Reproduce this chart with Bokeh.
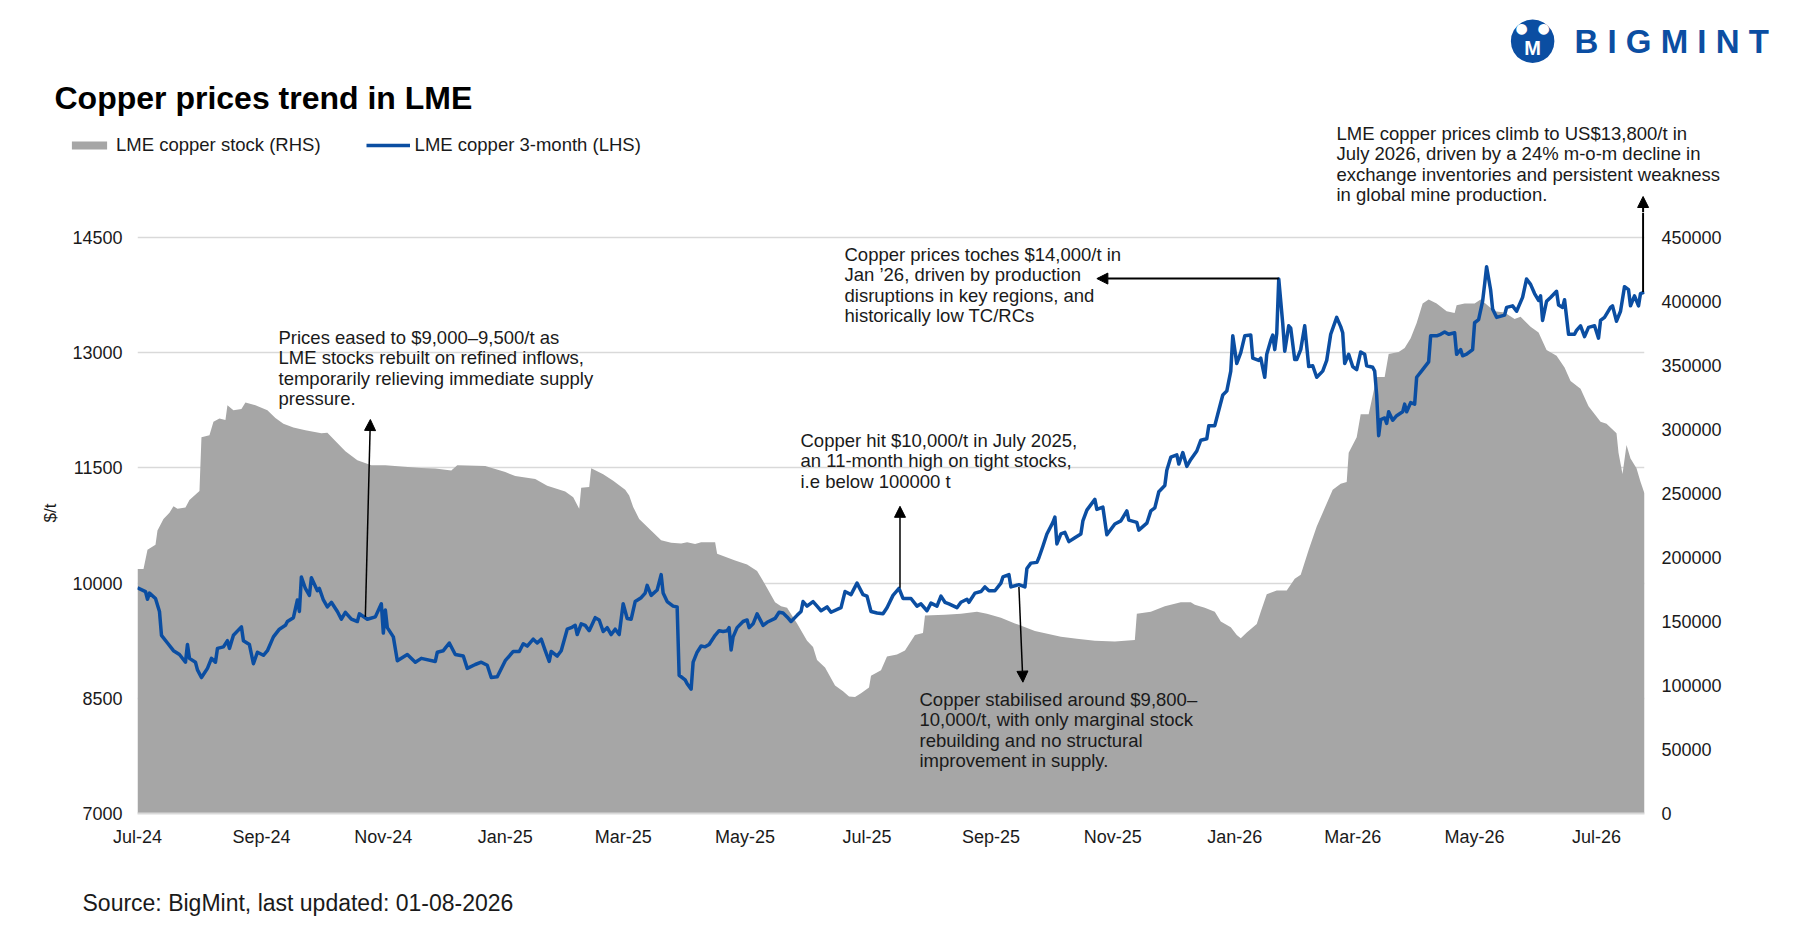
import pandas as pd
from bokeh.plotting import figure
from bokeh.layouts import column
from bokeh.models import (Range1d, LinearAxis, FixedTicker, DatetimeTickFormatter,
                          NumeralTickFormatter, Label, Arrow, NormalHead, Legend, LegendItem)
from bokeh.embed import file_html
from bokeh.resources import INLINE

FONT = "Liberation Sans"
BLUE = "#0B4EA2"
GREY = "#A6A6A6"
GRID = "#D9D9D9"
INK = "#1A1A1A"

START = pd.Timestamp("2024-07-01")
END = pd.Timestamp("2026-07-25")

# LME copper 3-month, US$/t (days counted from 1 Jul 2024)
price_day = [
    0, 4, 5, 6, 9, 11, 12, 15, 18, 21, 24, 25, 26, 29, 30, 32, 35, 37, 39, 40,
    43, 45, 46, 48, 52, 53, 56, 58, 60, 63, 65, 68, 71, 74, 75, 78, 80, 81, 82, 84,
    86, 87, 90, 91, 93, 95, 97, 100, 102, 104, 107, 110, 111, 115, 119, 122, 123, 124, 125, 128,
    130, 135, 139, 142, 149, 150, 153, 156, 159, 163, 165, 169, 172, 175, 177, 180, 184, 186, 188, 191,
    193, 195, 198, 200, 202, 204, 206, 207, 210, 212, 215, 217, 219, 220, 222, 224, 226, 229, 231, 233,
    235, 237, 239, 241, 243, 245, 247, 249, 252, 254, 255, 257, 260, 262, 263, 265, 268, 270, 271, 274,
    275, 277, 278, 280, 282, 284, 286, 289, 291, 293, 295, 296, 297, 298, 300, 303, 305, 306, 308, 310,
    313, 315, 319, 321, 323, 325, 327, 330, 332, 333, 335, 338, 340, 342, 345, 347, 352, 354, 357, 360,
    363, 365, 367, 370, 373, 375, 378, 381, 383, 387, 390, 392, 395, 397, 400, 402, 404, 406, 410, 412,
    415, 416, 419, 422, 424, 426, 429, 432, 433, 436, 437, 441, 444, 445, 447, 450, 451, 453, 455, 458,
    459, 460, 462, 464, 466, 469, 472, 473, 475, 479, 480, 483, 485, 489, 492, 495, 496, 500, 501, 505,
    507, 509, 511, 514, 515, 517, 520, 521, 523, 525, 527, 530, 532, 535, 536, 539, 541, 543, 545, 547,
    548, 550, 552, 554, 557, 558, 561, 562, 564, 565, 567, 568, 569, 570, 571, 573, 574, 576, 577, 579,
    580, 582, 584, 586, 588, 590, 593, 595, 597, 600, 602, 603, 604, 606, 608, 610, 612, 614, 615, 618,
    619, 620, 621, 622, 624, 625, 626, 628, 630, 633, 634, 635, 637, 639, 640, 643, 646, 647, 650, 652,
    654, 656, 659, 660, 662, 663, 665, 668, 669, 671, 673, 674, 675, 677, 678, 680, 684, 685, 688, 690,
    693, 695, 697, 699, 701, 702, 703, 705, 707, 710, 711, 713, 714, 716, 719, 720, 722, 724, 726, 729,
    731, 732, 734, 737, 738, 740, 742, 744, 746, 747, 749, 751, 752, 754,
]
price_usd = [
    9940, 9890, 9790, 9870, 9800, 9630, 9320, 9220, 9120, 9070, 8970, 9200, 9020, 8970, 8870, 8770, 8890, 9020, 8970, 9150,
    9170, 9250, 9150, 9320, 9430, 9250, 9200, 8950, 9100, 9060, 9120, 9300, 9400, 9450, 9500, 9550, 9780, 9630, 10080, 9930,
    9840, 10070, 9900, 9930, 9780, 9690, 9750, 9630, 9530, 9620, 9530, 9500, 9600, 9530, 9560, 9730, 9350, 9650, 9420, 9300,
    8990, 9070, 8970, 9020, 8980, 9100, 9120, 9220, 9070, 9050, 8890, 8940, 8970, 8930, 8770, 8780, 8990, 9050, 9110, 9110,
    9210, 9180, 9270, 9220, 9270, 9120, 8980, 9110, 9050, 9120, 9400, 9420, 9450, 9330, 9470, 9450, 9380, 9550, 9520, 9370,
    9420, 9330, 9400, 9330, 9730, 9540, 9530, 9760, 9810, 9870, 9970, 9840, 9910, 10110, 9870, 9760, 9700, 9690, 8800, 8740,
    8690, 8620, 8970, 9100, 9180, 9170, 9200, 9320, 9380, 9370, 9380, 9420, 9130, 9300, 9420, 9500, 9520, 9420, 9470, 9600,
    9450, 9490, 9540, 9620, 9610, 9560, 9500, 9580, 9630, 9760, 9700, 9760, 9700, 9640, 9690, 9620, 9680, 9890, 9850, 10000,
    9850, 9830, 9630, 9610, 9600, 9680, 9840, 9930, 9800, 9800, 9700, 9730, 9640, 9740, 9700, 9830, 9750, 9730, 9680, 9750,
    9790, 9750, 9870, 9890, 9950, 9900, 9900, 10000, 10080, 10110, 9950, 9980, 9950, 10190, 10260, 10270, 10330, 10480, 10640, 10790,
    10860, 10510, 10640, 10660, 10540, 10590, 10640, 10810, 10950, 11090, 10960, 10990, 10630, 10770, 10810, 10940, 10820, 10790, 10690, 10780,
    10940, 10980, 11190, 11270, 11470, 11640, 11670, 11550, 11700, 11520, 11610, 11720, 11860, 11880, 12050, 12050, 12250, 12450, 12500, 12760,
    13220, 12860, 13000, 13220, 13230, 12930, 12900, 12930, 12680, 12980, 13160, 13230, 13040, 13250, 13960, 13380, 13020, 13350, 13320, 12910,
    12910, 13040, 13350, 12820, 12830, 12680, 12760, 12900, 13240, 13460, 13340, 13260, 12860, 12980, 12820, 12780, 13010, 12980, 12830, 12810,
    12760, 12450, 11920, 12130, 12150, 12080, 12230, 12120, 12180, 12230, 12330, 12230, 12350, 12330, 12680, 12780, 12880, 13220, 13220, 13240,
    13270, 13240, 13260, 12980, 13040, 12960, 12980, 13040, 13390, 13430, 13670, 13890, 14120, 13820, 13570, 13460, 13490, 13590, 13610, 13540,
    13720, 13960, 13890, 13770, 13680, 13740, 13420, 13670, 13720, 13800, 13620, 13590, 13690, 13240, 13240, 13290, 13350, 13210, 13330, 13350,
    13190, 13420, 13460, 13590, 13610, 13410, 13540, 13860, 13820, 13610, 13740, 13610, 13770, 13790,
]

# LME copper stock, tonnes
stock_day = [
    0, 3, 5, 9, 10, 13, 16, 18, 20, 24, 26, 31, 32, 36, 38, 41, 44, 45, 48, 52,
    54, 59, 65, 69, 73, 78, 84, 92, 95, 99, 104, 110, 117, 124, 132, 142, 149, 157, 160, 174,
    184, 189, 199, 205, 214, 218, 221, 222, 226, 227, 233, 238, 244, 246, 248, 251, 255, 262, 267, 272,
    275, 279, 282, 289, 290, 299, 305, 310, 314, 319, 322, 325, 330, 335, 338, 340, 344, 349, 353, 356,
    359, 362, 366, 367, 372, 375, 380, 384, 389, 393, 394, 404, 412, 420, 425, 432, 439, 449, 462, 470,
    479, 489, 499, 500, 507, 514, 522, 527, 529, 534, 539, 542, 547, 550, 552, 555, 560, 562, 565, 570,
    575, 579, 582, 586, 590, 593, 598, 602, 605, 606, 610, 612, 616, 620, 624, 626, 631, 634, 637, 640,
    643, 646, 650, 655, 659, 660, 664, 669, 672, 675, 679, 684, 689, 692, 697, 701, 705, 710, 714, 717,
    722, 726, 732, 735, 740, 741, 743, 745, 747, 750, 752, 754,
]
stock_t = [
    191000, 191000, 206000, 210000, 221000, 230000, 235000, 240000, 238000, 239000, 245000, 252000, 294000, 295500, 306000, 308500, 307500, 319000, 315000, 316000,
    321000, 319000, 315000, 309000, 304500, 301500, 299500, 297000, 297500, 291000, 283000, 276000, 272000, 272000, 271000, 270000, 269500, 268000, 272000, 271500,
    266700, 263700, 261300, 256000, 251500, 247000, 238000, 254500, 255000, 269700, 265000, 260000, 253000, 248500, 239500, 230000, 224000, 213500, 211500, 211000,
    212000, 210500, 212000, 212000, 203000, 197600, 194600, 189500, 179000, 165000, 162000, 160700, 148500, 135000, 130000, 120000, 114000, 100000, 95500, 91500,
    91000, 94000, 98500, 107600, 112000, 122700, 124300, 127300, 139500, 141000, 154600, 155200, 156000, 157600, 156000, 153000, 148500, 142500, 138000, 136500,
    135000, 134300, 135500, 156000, 157600, 162000, 165000, 165000, 163000, 160700, 157600, 150000, 145500, 139500, 137000, 141500, 148000, 157600, 171200, 174300,
    174300, 183400, 186500, 206000, 224300, 235000, 253000, 257600, 259000, 281800, 294000, 312000, 312000, 341000, 341000, 359000, 360600, 363600, 371200, 383300,
    398500, 401500, 398500, 392400, 391000, 397000, 398500, 398500, 401500, 397600, 392400, 391500, 386400, 388000, 380300, 375800, 362100, 357600, 348500, 337900,
    331800, 318200, 306100, 304500, 297000, 281800, 265200, 287800, 277300, 269700, 259100, 250000,
]

price_ticks = [7000, 8500, 10000, 11500, 13000, 14500]
stock_ticks = [0, 50000, 100000, 150000, 200000, 250000, 300000, 350000, 400000, 450000]
month_ticks = ["2024-07-01", "2024-09-01", "2024-11-01", "2025-01-01", "2025-03-01", "2025-05-01",
               "2025-07-01", "2025-09-01", "2025-11-01", "2026-01-01", "2026-03-01", "2026-05-01",
               "2026-07-01"]


def ms(day):
    return (START + pd.Timedelta(days=day)).value / 1e6


price_dates = START + pd.to_timedelta(price_day, unit="D")
stock_dates = START + pd.to_timedelta(stock_day, unit="D")

W = 1790
HEAD_H, MAIN_H, FOOT_H = 212, 648, 69
# main frame: 137..1644 across, 212..813 down (page pixels); 14500 sits at 237
FRAME_L, FRAME_R, FRAME_B = 137, 1644, 813
PX_PER_USD = 576 / 7500
frame_h = FRAME_B - HEAD_H
y_top = 7000 + frame_h / PX_PER_USD
stock_top = 450000 * frame_h / 576


def blank(height):
    f = figure(width=W, height=height, x_range=Range1d(0, W), y_range=Range1d(0, height),
               output_backend="svg", toolbar_location=None, tools="",
               x_axis_location=None, y_axis_location=None, min_border=0,
               outline_line_color=None, frame_align=False)
    f.grid.grid_line_color = None
    return f


def label(fig, x, y, s, size="18.5px", **kw):
    opts = dict(text_font=FONT, text_font_size=size, text_color=INK,
                text_baseline="top", text_line_height=0.98)
    opts.update(kw)
    fig.add_layout(Label(x=x, y=y, x_units="screen", y_units="screen", text=s, **opts))


# ---------------- header: title, legend, logo ----------------
head = blank(HEAD_H)


def htext(xp, yp, s, **kw):
    label(head, xp, HEAD_H - yp, s, **kw)


htext(54, 97, "Copper prices trend in LME", size="32px", text_font_style="bold",
      text_color="black", text_baseline="middle")

# stand-ins that only carry the legend swatches
h_area = head.varea(x=[0], y1=[0], y2=[0], fill_color=GREY)
h_line = head.line(x=[0], y=[0], line_color=BLUE, line_width=3.5)
legend = Legend(
    items=[LegendItem(label="LME copper stock (RHS)", renderers=[h_area]),
           LegendItem(label="LME copper 3-month (LHS)", renderers=[h_line])],
    orientation="horizontal",
    location=(67, HEAD_H - 156),
    glyph_width=44, glyph_height=10, label_height=20,
    label_standoff=5, spacing=45, padding=0, margin=0,
    border_line_color=None, background_fill_alpha=0,
    label_text_font=FONT, label_text_font_size="18.5px", label_text_color=INK,
)
head.add_layout(legend)

# logo
htext(1532, 2, "\u25CF", size="57px", text_font="DejaVu Sans", text_color=BLUE,
      text_align="center", text_baseline="top")
htext(1521, 27, "\u25CF", size="14px", text_font="DejaVu Sans", text_color="white",
      text_align="center", text_baseline="middle")
htext(1543, 27, "\u25CF", size="14px", text_font="DejaVu Sans", text_color="white",
      text_align="center", text_baseline="middle")
htext(1532, 47, "M", size="20px", text_font_style="bold", text_color="white",
      text_align="center", text_baseline="middle")
htext(1574, 41, "B I G M I N T", size="33px", text_font_style="bold", text_color=BLUE,
      text_baseline="middle")

htext(1336, 122, "LME copper prices climb to US$13,800/t in\nJuly 2026, driven by a 24% m-o-m decline in\n"
      "exchange inventories and persistent weakness\nin global mine production.")

# arrow head part of the July 2026 call-out (its stem continues in the chart)
x_arrow = FRAME_L + 753.3 * (FRAME_R - FRAME_L) / 754
head.add_layout(Arrow(end=NormalHead(size=11, fill_color="black", line_color="black"),
                      x_start=x_arrow, y_start=0, x_end=x_arrow, y_end=HEAD_H - 196,
                      start_units="screen", end_units="screen",
                      line_color="black", line_width=2))

# ---------------- main chart ----------------
p = figure(
    width=W, height=MAIN_H,
    x_axis_type="datetime",
    x_range=Range1d(START, END),
    y_range=Range1d(7000, y_top),
    output_backend="svg",
    toolbar_location=None,
    tools="",
    min_border_left=FRAME_L, min_border_right=W - FRAME_R,
    min_border_top=0, min_border_bottom=MAIN_H + HEAD_H - FRAME_B,
    outline_line_color=None,
    frame_align=False,
)
p.extra_y_ranges = {"stock": Range1d(0, stock_top)}

p.varea(x=stock_dates, y1=0, y2=stock_t, fill_color=GREY, y_range_name="stock")
p.line(x=price_dates, y=price_usd, line_color=BLUE, line_width=3.5, line_join="round")

p.yaxis.ticker = FixedTicker(ticks=price_ticks)
p.yaxis.axis_label = "$/t"
p.yaxis.axis_label_standoff = 9
p.yaxis.axis_label_text_font = FONT
p.yaxis.axis_label_text_font_style = "normal"
p.yaxis.axis_label_text_font_size = "17px"
p.yaxis.axis_label_text_color = INK

right = LinearAxis(y_range_name="stock", ticker=FixedTicker(ticks=stock_ticks),
                   formatter=NumeralTickFormatter(format="0"))
p.add_layout(right, "right")

for ax in (p.yaxis[0], right):
    ax.axis_line_color = None
    ax.major_tick_line_color = None
    ax.minor_tick_line_color = None
    ax.major_tick_out = 0
    ax.major_tick_in = 0
    ax.major_label_text_font = FONT
    ax.major_label_text_font_size = "18px"
    ax.major_label_text_color = INK
p.yaxis[0].major_label_standoff = 15
right.major_label_standoff = 17

xa = p.xaxis[0]
xa.ticker = FixedTicker(ticks=[pd.Timestamp(d).value / 1e6 for d in month_ticks])
xa.formatter = DatetimeTickFormatter(days="%b-%y", months="%b-%y", years="%b-%y")
xa.axis_line_color = GRID
xa.axis_line_width = 2
xa.major_tick_line_color = None
xa.minor_tick_line_color = None
xa.major_tick_out = 0
xa.major_tick_in = 0
xa.major_label_standoff = 13
xa.major_label_text_font = FONT
xa.major_label_text_font_size = "18px"
xa.major_label_text_color = INK

p.xgrid.grid_line_color = None
p.ygrid.ticker = FixedTicker(ticks=price_ticks)
p.ygrid.grid_line_color = GRID
p.ygrid.grid_line_width = 1.5


def ptext(xp, yp, s, **kw):
    label(p, xp - FRAME_L, FRAME_B - yp, s, **kw)


ptext(278, 326, "Prices eased to $9,000\u20139,500/t as\nLME stocks rebuilt on refined inflows,\n"
      "temporarily relieving immediate supply\npressure.")
ptext(800, 429, "Copper hit $10,000/t in July 2025,\nan 11-month high on tight stocks,\n"
      "i.e below 100000 t")
ptext(844, 243, "Copper prices toches $14,000/t in\nJan \u201926, driven by production\n"
      "disruptions in key regions, and\nhistorically low TC/RCs")
ptext(919, 688, "Copper stabilised around $9,800\u2013\n10,000/t, with only marginal stock\n"
      "rebuilding and no structural\nimprovement in supply.")


def arrow(d0, y0, d1, y1, w=1.5, tip=True):
    end = NormalHead(size=11, fill_color="black", line_color="black") if tip else None
    p.add_layout(Arrow(end=end, x_start=ms(d0), y_start=y0, x_end=ms(d1), y_end=y1,
                       line_color="black", line_width=w))


arrow(114, 9560, 116.5, 12130)
arrow(381.5, 9940, 381.5, 11000)
arrow(571, 13965, 480, 13965, w=2)
arrow(441, 9950, 443, 8710)
arrow(753.3, 13790, 753.3, y_top, w=2, tip=False)

# ---------------- footer ----------------
foot = blank(FOOT_H)
label(foot, 82, HEAD_H + MAIN_H + FOOT_H - 902, "Source: BigMint, last updated: 01-08-2026",
      size="23px", text_baseline="middle")

open("out.html", "w").write(file_html(column(head, p, foot, spacing=0), INLINE))
